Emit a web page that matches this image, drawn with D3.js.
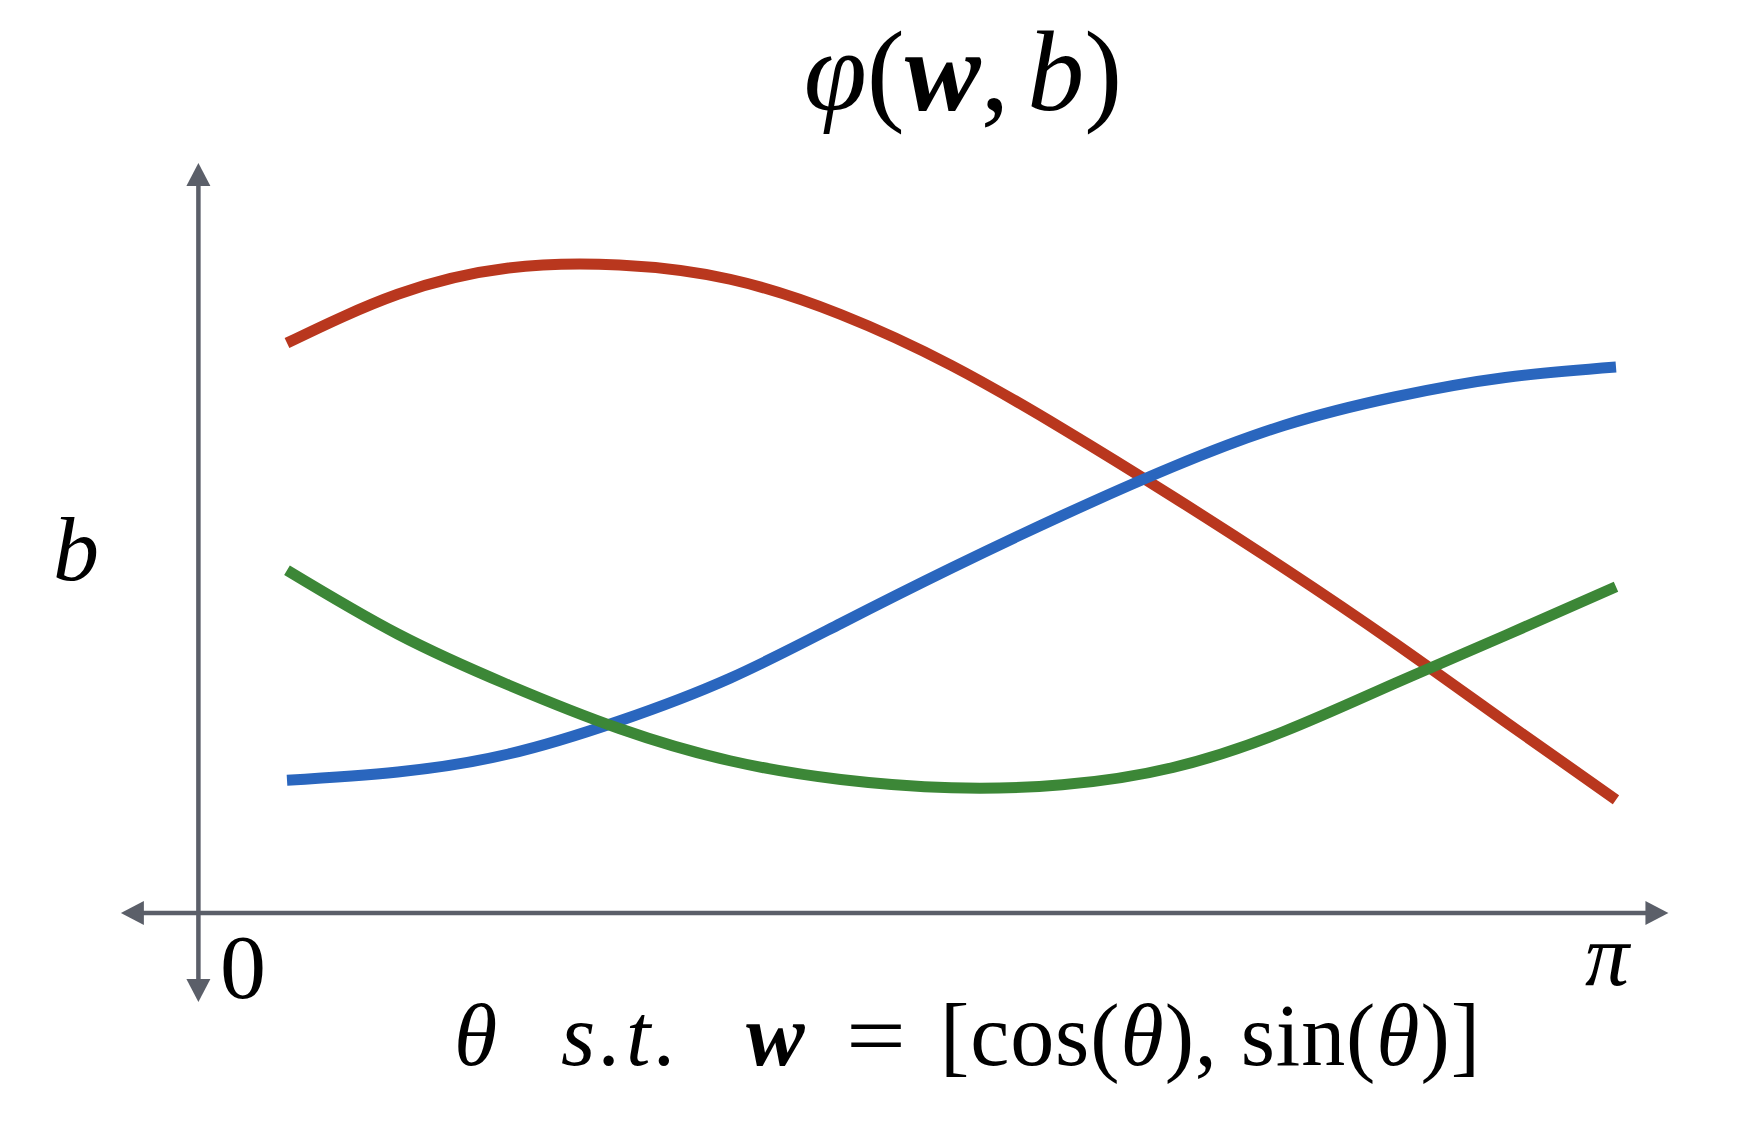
<!DOCTYPE html>
<html>
<head>
<meta charset="utf-8">
<script src="https://cdn.jsdelivr.net/npm/d3@7"></script>
<style>
  body { margin: 0; background: #fff; }
  text { font-family: "Liberation Serif", "DejaVu Serif", serif; fill: #000; }
</style>
</head>
<body>
<svg id="chart" width="1758" height="1122"></svg>
<script>
let width = 1758, height = 1122;

// theta in degrees (0..180 -> 0..pi), b in arbitrary units
let thetaDeg = [0, 15, 30, 45, 60, 75, 90, 105, 120, 135, 150, 165, 180];
let bRed   = [7.60, 8.25, 8.60, 8.64, 8.45, 7.98, 7.30, 6.46, 5.55, 4.60, 3.60, 2.55, 1.51];
let bBlue  = [1.77, 1.88, 2.12, 2.56, 3.13, 3.86, 4.60, 5.30, 5.95, 6.50, 6.88, 7.14, 7.28];
let bGreen = [4.57, 3.72, 3.04, 2.46, 2.03, 1.78, 1.67, 1.71, 1.94, 2.42, 3.06, 3.70, 4.35];

let seriesNames  = ["red", "blue", "green"];
let seriesColors = ["#b9371e", "#2a66be", "#3c8737"];

let xTicks = [0, 180];
let xTickLabels = ["0", "π"];

let axisColor = "#5b5f69";

let x = d3.scaleLinear().domain([0, 180]).range([287, 1616]);
let y = d3.scaleLinear().domain([0, 10]).range([913, 163]);

let svg = d3.select('#chart');

// axes: origin sits a bit left of theta = 0
let originX = x(-12), originY = y(0);
let leftTip = x(-22.5), rightTip = x(187.1), topTip = y(10), bottomTip = y(0) + 89;
let arrowLen = 23, arrowHalf = 12;

let axes = svg.append('g').attr('class', 'axes');

axes.append('line')
    .attr('x1', leftTip + arrowLen - 2).attr('y1', originY)
    .attr('x2', rightTip - arrowLen + 2).attr('y2', originY)
    .attr('stroke', axisColor).attr('stroke-width', 4.5);

axes.append('line')
    .attr('x1', originX).attr('y1', bottomTip - arrowLen + 2)
    .attr('x2', originX).attr('y2', topTip + arrowLen - 2)
    .attr('stroke', axisColor).attr('stroke-width', 4.5);

// arrowheads
let heads = [
  {tx: rightTip, ty: originY, dx: -1, dy: 0},
  {tx: leftTip, ty: originY, dx: 1, dy: 0},
  {tx: originX, ty: topTip, dx: 0, dy: 1},
  {tx: originX, ty: bottomTip, dx: 0, dy: -1}
];
axes.selectAll('path.head')
    .data(heads)
    .enter().append('path')
    .attr('class', 'head')
    .attr('fill', axisColor)
    .attr('d', function(d) {
      let bx = d.tx + d.dx * arrowLen, by = d.ty + d.dy * arrowLen;
      let px = -d.dy * arrowHalf, py = d.dx * arrowHalf;
      return "M" + d.tx + "," + d.ty + "L" + (bx + px) + "," + (by + py) + "L" + (bx - px) + "," + (by - py) + "Z";
    });

// curves
let series = [bRed, bBlue, bGreen];

let line = d3.line()
    .x((d) => x(d[0]))
    .y((d) => y(d[1]))
    .curve(d3.curveNatural);

svg.append('g').selectAll('path.curve')
    .data(series)
    .enter().append('path')
    .attr('class', (d, i) => 'curve ' + seriesNames[i])
    .attr('fill', 'none')
    .attr('stroke', (d, i) => seriesColors[i])
    .attr('stroke-width', 11)
    .attr('stroke-linecap', 'butt')
    .attr('d', (d) => line(d3.zip(thetaDeg, d)));

// tick labels 0 and pi
svg.selectAll('text.tick')
    .data(xTicks)
    .enter().append('text')
    .attr('class', 'tick')
    .attr('x', (d, i) => i === 0 ? x(d) - 44 : x(d) - 9)
    .attr('y', (d, i) => i === 0 ? originY + 85 : originY + 72)
    .attr('text-anchor', 'middle')
    .attr('font-size', (d, i) => i === 0 ? 92 : 88)
    .attr('font-style', (d, i) => i === 0 ? 'normal' : 'italic')
    .text((d, i) => xTickLabels[i]);

// y label
svg.append('text')
    .attr('x', 76).attr('y', 580)
    .attr('text-anchor', 'middle')
    .attr('font-size', 92)
    .attr('font-style', 'italic')
    .text('b');

// title
let title = svg.append('text')
    .attr('x', 963).attr('y', 110)
    .attr('text-anchor', 'middle')
    .attr('font-size', 114);
title.append('tspan').attr('font-style', 'italic').text('φ');
title.append('tspan').text('(');
title.append('tspan').attr('font-style', 'italic').attr('font-weight', 'bold').text('w');
title.append('tspan').text(',');
title.append('tspan').attr('dx', 18).attr('font-style', 'italic').text('b');
title.append('tspan').text(')');

// x label
let xl = svg.append('g').attr('font-size', 88);
xl.append('text').attr('x', 454).attr('y', 1065).attr('font-style', 'italic').text('θ');
xl.append('text').attr('x', 561).attr('y', 1065).attr('font-style', 'italic')
    .attr('textLength', 116).attr('lengthAdjust', 'spacing').text('s.t.');
xl.append('text').attr('x', 746).attr('y', 1065).attr('font-style', 'italic').attr('font-weight', 'bold').text('w');
xl.append('text').attr('x', 846).attr('y', 1065)
    .attr('textLength', 60).attr('lengthAdjust', 'spacingAndGlyphs').text('=');
let rhs = xl.append('text').attr('x', 940).attr('y', 1065)
    .attr('textLength', 540).attr('lengthAdjust', 'spacing');
rhs.append('tspan').text('[cos(');
rhs.append('tspan').attr('font-style', 'italic').text('θ');
rhs.append('tspan').text('), sin(');
rhs.append('tspan').attr('font-style', 'italic').text('θ');
rhs.append('tspan').text(')]');
</script>
</body>
</html>
